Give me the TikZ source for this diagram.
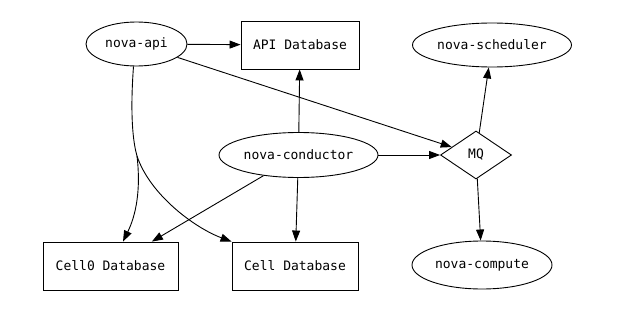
\documentclass[tikz,border=0pt]{standalone}
\usepackage{fontspec}
\setmonofont{DejaVu Sans Mono}
\usetikzlibrary{shapes.geometric,arrows.meta}

\begin{document}
\begin{tikzpicture}[x=1pt, y=-1pt, >={Triangle[length=11pt,width=8pt]}, line width=0.9pt]
\tikzstyle{proc} = [draw, ellipse, inner sep=0pt, font=\ttfamily\fontsize{13}{15}\selectfont]
\tikzstyle{db} = [draw, rectangle, inner sep=0pt, minimum height=48pt, font=\ttfamily\fontsize{13}{15}\selectfont]
\tikzstyle{queue} = [draw, diamond, inner sep=0pt, minimum width=71pt, minimum height=48pt, font=\ttfamily\fontsize{13}{15}\selectfont]
\tikzstyle{flow} = [draw, ->]

\useasboundingbox (0,0) rectangle (621,313);

% Services and stores
\node [proc, minimum width=101pt, minimum height=44pt] (api) at (136.5,44) {nova-api};
\node [db, minimum width=118pt] (apidb) at (300,45) {API Database};
\node [proc, minimum width=159pt, minimum height=44pt] (sched) at (492,45) {nova-scheduler};
\node [proc, minimum width=159pt, minimum height=45pt] (cond) at (298.5,155) {nova-conductor};
\node [queue] (mq) at (476,155) {MQ};
\node [db, minimum width=135pt] (cell0) at (110.5,266) {Cell0 Database};
\node [db, minimum width=126pt] (cell) at (295,266) {Cell Database};
\node [proc, minimum width=140pt, minimum height=48pt] (compute) at (482,265) {nova-compute};

% Where the two nova-api links part
\coordinate (fork) at (137,156);

% Links
\draw [flow] (api) -- (apidb);
\draw [flow] (api) -- (mq);
\draw (api.south) ++(-3,0) .. controls (131,100) and (131,135) .. (fork);
\draw [flow] (fork) .. controls (141,190) and (136,215) .. ([xshift=12.5pt]cell0.north);
\draw [flow] (fork) .. controls (150,195) and (195,228) .. (cell.north west);
\draw [flow] (cond) -- (apidb);
\draw [flow] (cond) -- (mq);
\draw [flow] (cond) -- (cell0);
\draw [flow] (cond) -- (cell);
\draw [flow] (mq) -- (sched);
\draw [flow] (mq) -- (compute);

\end{tikzpicture}
\end{document}
